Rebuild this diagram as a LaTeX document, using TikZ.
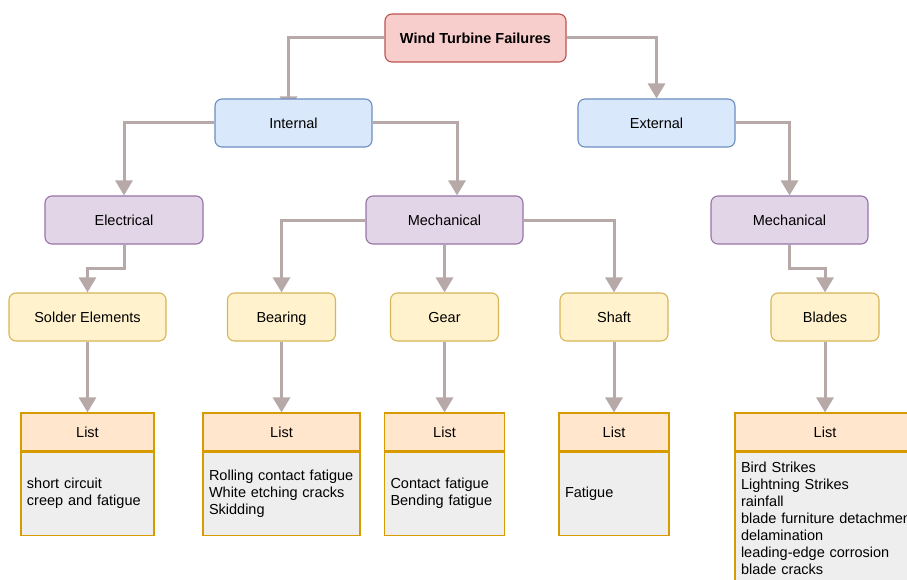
\documentclass[tikz,border=0pt]{standalone}
\usepackage{fontspec}
\setmainfont{Liberation Sans}
\usepackage{tikz}
\usetikzlibrary{arrows.meta,backgrounds}
\definecolor{rootfill}{HTML}{F8CECC}
\definecolor{rootline}{HTML}{B85450}
\definecolor{catfill}{HTML}{DAE8FC}
\definecolor{catline}{HTML}{6C8EBF}
\definecolor{kindfill}{HTML}{E1D5E7}
\definecolor{kindline}{HTML}{9673A6}
\definecolor{partfill}{HTML}{FFF2CC}
\definecolor{partline}{HTML}{D6B656}
\definecolor{hdfill}{HTML}{FFE6CC}
\definecolor{listline}{HTML}{D79B00}
\definecolor{bodyfill}{HTML}{EEEEEE}
\definecolor{wirec}{RGB}{184,169,169}

\begin{document}
\begin{tikzpicture}[x=1pt,y=-1pt,every node/.style={font=\fontsize{14.5}{17}\selectfont},
box/.style n args={3}{fill=#1,draw=#2,minimum width=#3pt,minimum height=48pt,rounded corners=7pt,line width=1.1pt,inner sep=0pt,text height=10.5pt,text depth=0pt},
listhead/.style={fill=hdfill,draw=listline,minimum height=38pt,line width=1.1pt,inner sep=0pt,text height=10.5pt,text depth=0pt},
listbody/.style={fill=bodyfill,draw=listline,align=left,inner xsep=6pt,inner ysep=0pt,line width=1.1pt},
wire/.style={wirec,line width=3pt,-{Triangle[width=17pt,length=15pt]}}]
\useasboundingbox (0,0) rectangle (907,580);
\clip (0,0) rectangle (907,580);
\node[box={rootfill}{rootline}{181},font=\fontsize{14.5}{17}\selectfont\bfseries] (wtf) at (475.5,38) {Wind Turbine Failures};
\node[box={catfill}{catline}{157}] (int) at (293.5,123) {Internal};
\node[box={catfill}{catline}{157}] (ext) at (656.5,123) {External};
\node[box={kindfill}{kindline}{158}] (ele) at (124,220) {Electrical};
\node[box={kindfill}{kindline}{157}] (mechi) at (444.5,220) {Mechanical};
\node[box={kindfill}{kindline}{157}] (meche) at (789.5,220) {Mechanical};
% parts and their lists
\foreach \nm/\cx/\lbl/\iw/\lw/\tw/\bh/\txt in %
{sold/87.5/Solder Elements/157/133/121/83/{short circuit\\creep and fatigue},
bear/281.5/Bearing/108/157/145/83/{Rolling contact fatigue\\White etching cracks\\Skidding},
gear/444.5/Gear/108/120/108/83/{Contact fatigue\\Bending fatigue},
shaft/614/Shaft/108/110/98/83/{Fatigue},
blade/825/Blades/108/180/210/132/{Bird Strikes\\Lightning Strikes\\rainfall\\blade furniture detachment\\delamination\\leading-edge corrosion\\blade cracks}} {
   \node[box={partfill}{partline}{\iw}] (\nm) at (\cx,317) {\lbl};
   \node[listhead,minimum width=\lw pt] (\nm hd) at (\cx,432) {List};
   \node[listbody,minimum height=\bh pt,text width=\tw pt,anchor=north west] (\nm ls) at (\nm hd.south west) {\txt};
   \begin{scope}[on background layer]
   \draw[wire] (\nm.south) -- (\nm hd.north);
   \end{scope}
}
\begin{scope}[on background layer]
\draw[wire] (wtf.west) -| ([xshift=-5pt,yshift=-13pt]int.north);
\draw[wire] (wtf.east) -| (ext.north);
\draw[wire] (int.west) -| (ele.north);
\draw[wire] (int.east) -| ([xshift=12.5pt]mechi.north);
\draw[wire] (ext.east) -| (meche.north);
\draw[wire] (ele.south) -- ++(0,24) -| (sold.north);
\draw[wire] (mechi.west) -| (bear.north);
\draw[wire] (mechi.south) -- (gear.north);
\draw[wire] (mechi.east) -| (shaft.north);
\draw[wire] (meche.south) -- ++(0,24) -| (blade.north);
\end{scope}
\end{tikzpicture}
\end{document}
